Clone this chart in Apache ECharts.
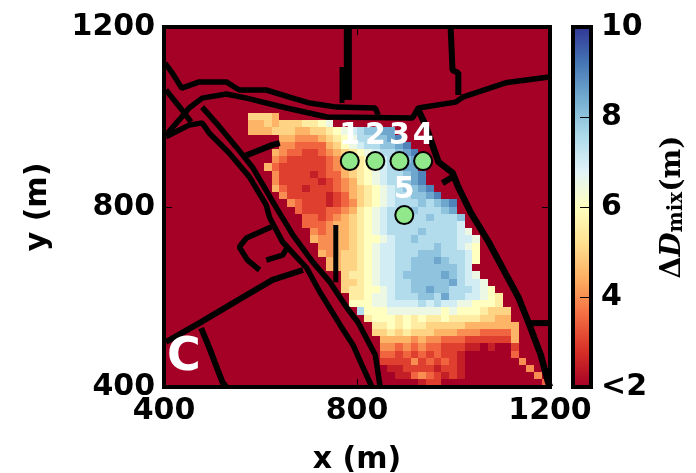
<!DOCTYPE html>
<html>
<head>
<meta charset="utf-8">
<style>html,body{margin:0;padding:0;background:#fff}#c{width:696px;height:473px}</style>
<script src="https://cdn.jsdelivr.net/npm/echarts@6/dist/echarts.min.js"></script>
</head>
<body>
<div id="c"></div>
<script>
// Value code per cell: . = 2 (<2), a = 2.5, b = 3 ... p = 10
var codes = '.abcdefghijklmnop';
var firstRow = 12;
var rowStarts = [11,11,11,15,15,14,14,13,14,14,14,15,16,17,18,18,19,19,20,20,21,21,23,23,23,24,24,25,26,27,27,28,28,28,28,29,30,33];
var rowCells = [
'fffe',
'eefefffgghi',
'eeefffeeffghijkllmm',
'eedddefghikkllmn',
'ddccccefhijkkllmn',
'edccbbcdefghijkklmn',
'dcbbbbbcdefghijkllm',
'ecbbbbbbcdefghijklmm',
'dbbbbabccefghijkklmn',
'dbbbbbabcdeghijkklmn',
'ecbbabbbcdefghijkllmn',
'dbbbbbabcefghijkkllmn',
'dcbbbabcdfghijkkklklmn',
'cbbbccdeghijkkklkkklm',
'ccbcdefghijkkkkklkkkl',
'cccdeefghijkkkkkkkkkj',
'dcdeefghijkkkklkkkkji',
'eddeefghhijkklkkkkkjji',
'ddeefghijjkkkkklkkjih',
'edeffghijjkkklllkkkjh',
'eeffghijjkklllmlkkjh',
'eeffghijjkkllllllkj',
'fgghijjklllllmlkji',
'ffghijjkklllllmkjji',
'fgghhijkkllmllkkkjih',
'gghiijkkkllkmkkjjihg',
'hhhiijjjjkjkjjiihhhg',
'khhhiiiiiiihihhhgfff',
'ghhhghghgghggggffee',
'gghghggfffffeeeeeee',
'ffgfgfffeeedddcccce',
'eeeededdcccbbbbbbe',
'ddcdcdccbbbaa.a..b',
'ccbcbcbcbba......c',
'bbbbdbcbcba.......d',
'aabbbbabba........d',
'aacdcbaba.........d',
'abb.............c'
];
var palette = ['#a50026','#d73027','#f46d43','#fdae61','#fee090','#ffffbf','#e0f3f8','#abd9e9','#74add1','#4575b4','#313695'];
var xTicks = [400,800,1200];
var yTicks = [400,800,1200];
var barTicks = [2,4,6,8,10];
var stationX = [785,838,888,937,898];
var stationY = [902,902,902,902,782];
var stationNames = ['1','2','3','4','5'];
var roadA = [[402,1120],[417,1098],[437,1064],[473,1078],[529,1078],[556,1060],[612,1060],[660,1044],[702,1031],[758,1022],[838,1020],[844,1004]];
var roadB = [[404,960],[431,993],[452,1020],[479,1042],[529,1051],[571,1042],[654,1020],[738,1000],[915,998],[927,1020],[1004,1033],[1019,1044],[1108,1076],[1198,1089]];
var roadC = [[404,1060],[437,1016],[456,989]];
var roadD = [[404,956],[452,982],[479,987],[494,964],[535,920],[577,867],[612,804],[619,776],[646,722],[696,664],[723,611],[765,538],[792,493],[810,449],[831,400]];
var roadE = [[479,1022],[508,987],[550,933],[583,889],[633,798],[667,738],[708,678],[744,633],[779,576],[802,544],[838,471],[848,400]];
var roadF = [[781,1200],[781,1038]];
var roadG = [[769,1111],[769,1031]];
var roadH = [[994,1200],[998,1104],[1010,1098],[1010,1049]];
var roadI = [[927,1016],[942,982],[958,933],[969,900],[998,876],[1010,844],[1035,789],[1073,722],[1102,664],[1135,598],[1156,542],[1181,471],[1196,411],[1200,400]];
var roadJ = [[1156,542],[1198,542]];
var roadK = [[977,853],[998,867]];
var roadL = [[404,500],[473,542],[571,604],[625,638],[688,660]];
var roadM = [[477,531],[494,487],[521,411],[529,400]];
var roadN = [[623,756],[571,731],[556,711],[573,682],[598,660]];
var roadO = [[612,682],[646,693],[656,711],[646,722]];
var roadP = [[562,911],[625,938],[640,942]];
var roadQ = [[756,760],[756,633]];
var roads = [
  {d:roadA,w:5.5},{d:roadB,w:5.5},{d:roadC,w:5.5},{d:roadD,w:5.5},{d:roadE,w:5.5},
  {d:roadF,w:8},{d:roadG,w:5},{d:roadH,w:6},{d:roadI,w:6.5},{d:roadJ,w:6},{d:roadK,w:6},
  {d:roadL,w:6},{d:roadM,w:6},{d:roadN,w:5.5},{d:roadO,w:5.5},{d:roadP,w:6},{d:roadQ,w:5}
];

var cell = 16, cols = 50, rows = 50;
var cells = [];
for (var r = 0; r < rows; r++) {
  for (var c = 0; c < cols; c++) {
    var v = 2, i = r - firstRow;
    if (i >= 0 && i < rowCells.length) {
      var k = c - rowStarts[i];
      if (k >= 0 && k < rowCells[i].length) v = 2 + 0.5 * codes.indexOf(rowCells[i][k]);
    }
    cells.push([400 + c * cell, 1200 - (r + 1) * cell, v]);
  }
}

var font = 'DejaVu Sans';
var fs = 30;
var lbl = {fontFamily:font,fontWeight:'bold',fontSize:fs,color:'#000'};
var frame = {show:true,onZero:false,lineStyle:{color:'#000',width:4,cap:'square'}};
function mainAxis(pos, ticks, extra) {
  return Object.assign({
    type:'value',gridIndex:0,position:pos,min:ticks[0],max:ticks[ticks.length-1],interval:ticks[1]-ticks[0],
    z:6,splitLine:{show:false},axisLine:frame,
    axisTick:{show:true,inside:true,length:8,lineStyle:{color:'#000',width:1}},
    axisLabel:{show:false}
  }, extra||{});
}
var plain = function(v){return String(v);};
var shown = Object.assign({show:true,margin:9,showMinLabel:true,showMaxLabel:true,hideOverlap:false,formatter:plain}, lbl);
var series = [{
  type:'custom',xAxisIndex:0,yAxisIndex:0,data:cells,encode:{x:0,y:1},clip:true,silent:true,z:2,
  renderItem:function(p,api){
    var a = api.coord([api.value(0),api.value(1)+cell]);
    var b = api.coord([api.value(0)+cell,api.value(1)]);
    var x0 = Math.floor(a[0]), y0 = Math.floor(a[1]);
    return {type:'rect',shape:{x:x0,y:y0,width:Math.ceil(b[0])-x0,height:Math.ceil(b[1])-y0},
      style:{fill:api.visual('color')}};
  }
}];
roads.forEach(function(rd){
  series.push({type:'line',xAxisIndex:0,yAxisIndex:0,data:rd.d,showSymbol:false,symbol:'none',silent:true,z:3,
    lineStyle:{color:'#000',width:rd.w,join:'bevel'}});
});
series.push({
  type:'scatter',xAxisIndex:0,yAxisIndex:0,silent:true,z:4,symbolSize:18,
  data:stationX.map(function(x,i){return {value:[x,stationY[i]],name:stationNames[i]};}),
  itemStyle:{color:'#90e88a',borderColor:'#000',borderWidth:2,opacity:1},
  label:{show:true,position:'top',distance:0,formatter:'{b}',color:'#fff',fontFamily:font,fontWeight:'bold',fontSize:30}
});

var option = {
  animation:false,
  backgroundColor:'#fff',
  grid:[
    {left:164,top:27,width:386,height:360,outerBoundsMode:'none',show:true,backgroundColor:palette[0],borderWidth:0},
    {left:573,top:27,width:18,height:360,outerBoundsMode:'none'}
  ],
  visualMap:{type:'continuous',min:2,max:10,dimension:2,seriesIndex:0,calculable:false,hoverLink:false,
    left:573,top:27,itemWidth:18,itemHeight:360,padding:0,text:null,inRange:{color:palette},z:4},
  xAxis:[
    mainAxis('bottom',xTicks,{axisLabel:shown,name:'x (m)',nameLocation:'middle',nameGap:58,nameTextStyle:lbl}),
    mainAxis('top',xTicks),
    {type:'value',gridIndex:1,position:'bottom',min:0,max:1,z:6,splitLine:{show:false},axisLine:frame,axisTick:{show:false},axisLabel:{show:false}},
    {type:'value',gridIndex:1,position:'top',min:0,max:1,z:6,splitLine:{show:false},axisLine:frame,axisTick:{show:false},axisLabel:{show:false}}
  ],
  yAxis:[
    mainAxis('left',yTicks,{axisLabel:shown,name:'y (m)',nameLocation:'middle',nameGap:111,nameRotate:90,nameTextStyle:lbl}),
    mainAxis('right',yTicks),
    {type:'value',gridIndex:1,position:'right',min:barTicks[0],max:barTicks[barTicks.length-1],interval:2,z:6,
      splitLine:{show:false},axisLine:frame,
      axisTick:{show:true,inside:true,length:11,lineStyle:{color:'#000',width:1}},
      axisLabel:Object.assign({},shown,{margin:10,formatter:function(v){return v===2?'<2':String(v);}}),
      name:'{a|Δ}{d|D}{s|mix}{a|(m)}',nameLocation:'middle',nameRotate:90,nameGap:68,
      nameTextStyle:{rich:{
        a:{fontFamily:'DejaVu Serif',fontWeight:'bold',fontSize:28,color:'#000'},
        d:{fontFamily:'DejaVu Serif',fontWeight:'bold',fontStyle:'italic',fontSize:28,color:'#000'},
        s:{fontFamily:'DejaVu Serif',fontWeight:'bold',fontSize:20,color:'#000',verticalAlign:'bottom',padding:[8,0,0,0]}
      }}},
    {type:'value',gridIndex:1,position:'left',min:2,max:10,z:6,splitLine:{show:false},axisLine:frame,axisTick:{show:false},axisLabel:{show:false}}
  ],
  series:series,
  graphic:[{type:'text',left:167,top:335,z:20,silent:true,
    style:{text:'C',fill:'#fff',fontFamily:font,fontWeight:'bold',fontSize:46}}]
};
var chart = echarts.init(document.getElementById('c'),null,{renderer:'canvas'});
chart.setOption(option);
</script>
</body>
</html>
